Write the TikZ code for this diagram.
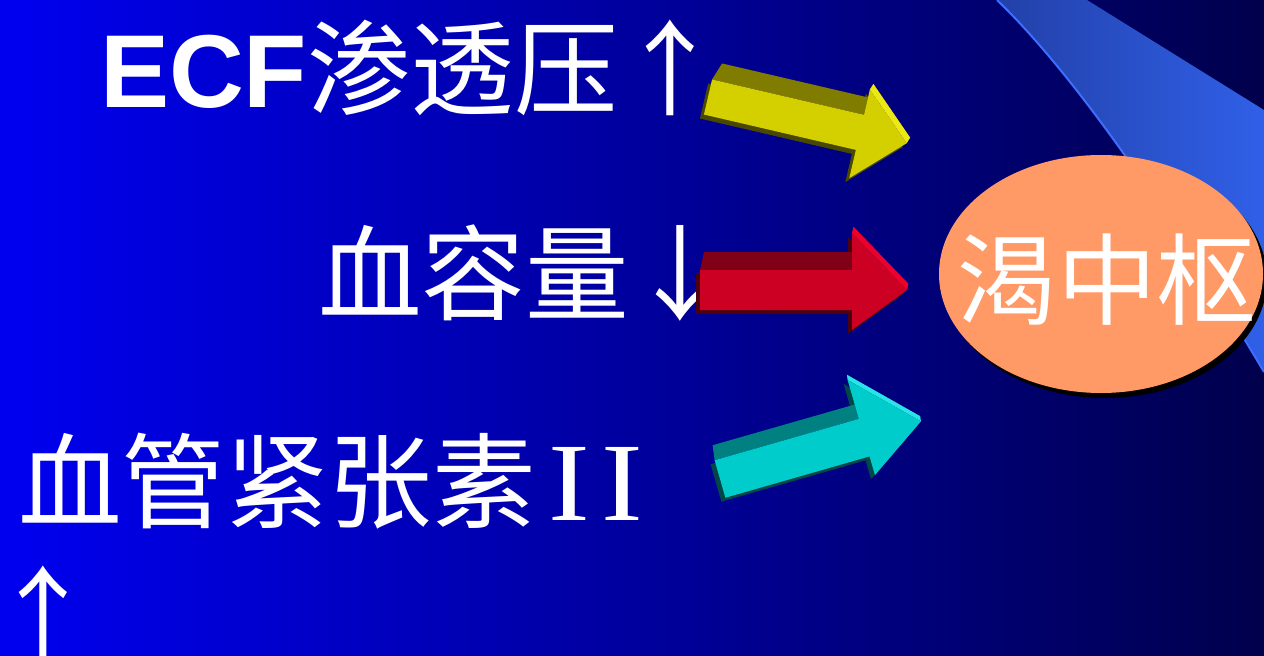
\documentclass[tikz,border=0pt]{standalone}
\usepackage{fontspec}
\usetikzlibrary{calc}
\newfontfamily\cjk{Noto Sans CJK SC}
\newfontfamily\lsans{Liberation Sans}
\newfontfamily\lserif{Liberation Serif}
\definecolor{bgL}{RGB}{0,0,240}
\definecolor{bgM}{RGB}{0,0,168}
\definecolor{bgR}{RGB}{0,0,76}
\definecolor{stripeL}{RGB}{34,64,168}
\definecolor{stripeR}{RGB}{48,96,232}
\definecolor{stripeEdge}{RGB}{60,110,255}
\definecolor{salmon}{RGB}{255,153,102}
\definecolor{arrfront}{RGB}{212,208,0}
\definecolor{arrtop}{RGB}{128,124,0}
\definecolor{arrdark}{RGB}{74,72,0}
\definecolor{arrlight}{RGB}{236,232,20}
\newcommand\blockarrow[8]{%
 \begin{scope}[shift={(#1,#2)},rotate=#3]
  \coordinate (p1) at (0,-#6);
  \coordinate (p2) at (#4,-#6);
  \coordinate (p3) at (#4,-#7);
  \coordinate (p4) at (#5,0);
  \coordinate (p5) at (#4,#8);
  \coordinate (p6) at (#4,#6);
  \coordinate (p7) at (0,#6);
 \end{scope}
 \fill[arrdark] ($(p1)+(-4,4)$) -- ($(p2)+(-4,4)$) -- ($(p3)+(-4,4)$) -- ($(p4)+(-4,4)$)
   -- ($(p5)+(-4,4)$) -- ($(p6)+(-4,4)$) -- ($(p7)+(-4,4)$) -- cycle;
 \fill[arrtop] (p1) -- (p2) -- ($(p2)+(\aox,\aoy)$) -- ($(p1)+(\aox,\aoy)$) -- cycle;
 \fill[arrdark] (p2) -- ($(p2)+(\aox,\aoy)$) -- ($(p3)+0.35*(\aox,\aoy)$) -- (p3) -- cycle;
 \fill[arrlight] (p3) -- (p4) -- ($(p4)+0.35*(\aox,\aoy)$) -- ($(p3)+0.35*(\aox,\aoy)$) -- cycle;
 \fill[arrfront] (p1) -- (p2) -- (p3) -- (p4) -- (p5) -- (p6) -- (p7) -- cycle;
}
\newcommand\romI{\scalebox{1.12}[1]{I}}
\tikzset{
 txtlabel/.style={text=white, inner sep=0pt, outer sep=0pt, anchor=base west,
   font=\fontsize{104}{104}\selectfont}
}
\begin{document}
\begin{tikzpicture}[x=1bp,y=-1bp]
\useasboundingbox (0,0) rectangle (1264,656);
\shade[left color=bgL, middle color=bgM, right color=bgR] (0,0) rectangle (1264,656);
% decorative stripe
\shade[left color=stripeL, right color=stripeR]
  (997,0) .. controls (1080,80) and (1180,230) .. (1264,372) -- (1264,110) -- (1087,0) -- cycle;
\draw[stripeEdge, line width=2bp] (997,0) .. controls (1080,80) and (1180,230) .. (1264,372);
% texts
\node[txtlabel] (line1) at (100,108) {{\lsans\bfseries ECF}{\cjk 渗透压↑}};
\node[txtlabel] (line2) at (318,312) {{\cjk 血容量↓}};
\node[txtlabel] (line3) at (18,520) {{\cjk 血管紧张素}\hspace{12bp}{\lserif\fontsize{112}{112}\selectfont\romI\hspace{12bp}\romI}};
\node[txtlabel] (line4) at (-8,653) {{\cjk ↑}};
% centre ellipse
\fill[black] (1105,279) ellipse [x radius=162, y radius=119];
\fill[salmon] (1101,274) ellipse [x radius=162, y radius=119];
\node[text=white, inner sep=0pt, font=\fontsize{100}{100}\selectfont\cjk] (thirst) at (1107,280) {渴中枢};
% block arrows
\def\aox{10}\def\aoy{-16}
\blockarrow{708}{97}{-13.1}{156}{204}{18}{44}{47}
\definecolor{arrfront}{RGB}{204,0,34}
\definecolor{arrtop}{RGB}{128,0,24}
\definecolor{arrdark}{RGB}{74,0,16}
\definecolor{arrlight}{RGB}{236,0,44}
\def\aox{4}\def\aoy{-18}
\blockarrow{700}{290}{0}{152}{207}{20}{57}{40}
\definecolor{arrfront}{RGB}{0,204,204}
\definecolor{arrtop}{RGB}{0,128,128}
\definecolor{arrdark}{RGB}{0,72,72}
\definecolor{arrlight}{RGB}{40,228,228}
\def\aox{-2}\def\aoy{-15}
\blockarrow{720}{479}{16}{150}{209}{19.5}{60}{39}
\end{tikzpicture}
\end{document}
